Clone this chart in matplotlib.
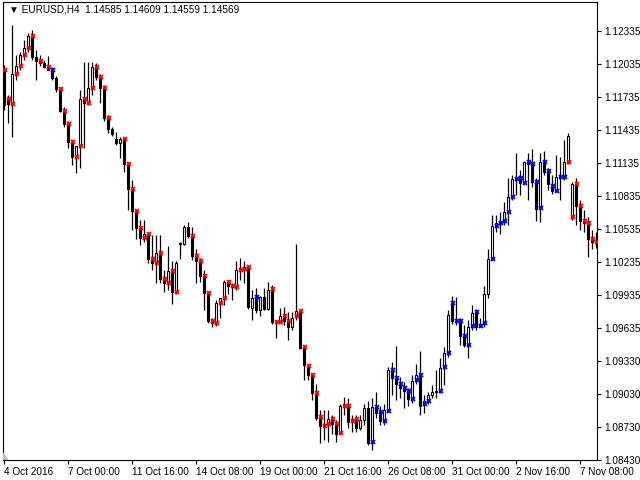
import matplotlib.pyplot as plt
from matplotlib.patches import Polygon
import numpy as np

plt.rcParams['font.family'] = ['Liberation Sans', 'DejaVu Sans']

# EURUSD H4 candles, bar 0 = 4 Oct 2016 08:00
opens = [1.1198, 1.1172, 1.1167, 1.1194, 1.1202, 1.1212, 1.1218, 1.1229, 1.1210, 1.1206,
         1.1204, 1.1201, 1.1198, 1.1191, 1.1181, 1.1161, 1.1149, 1.1133, 1.1119, 1.1129,
         1.1172, 1.1168, 1.1182, 1.1201, 1.1192, 1.1182, 1.1154, 1.1144, 1.1135, 1.1132,
         1.1135, 1.1113, 1.1090, 1.1070, 1.1054, 1.1045, 1.1049, 1.1026, 1.1023, 1.1032,
         1.1008, 1.1004, 1.1015, 1.0996, 1.1041, 1.1040, 1.1055, 1.1047, 1.1029, 1.1024,
         1.1011, 1.0995, 1.0970, 1.0968, 1.0986, 1.0991, 1.1005, 1.1002, 1.1001, 1.1016,
         1.1017, 1.1019, 1.0982, 1.0992, 1.0980, 1.0992, 1.0981, 1.0999, 1.0969, 1.0969,
         1.0974, 1.0970, 1.0964, 1.0974, 1.0979, 1.0946, 1.0929, 1.0921, 1.0904, 1.0883,
         1.0874, 1.0876, 1.0881, 1.0876, 1.0868, 1.0893, 1.0893, 1.0879, 1.0881, 1.0873,
         1.0880, 1.0891, 1.0860, 1.0892, 1.0887, 1.0879, 1.0888, 1.0925, 1.0918, 1.0913,
         1.0909, 1.0906, 1.0899, 1.0916, 1.0921, 1.0894, 1.0897, 1.0903, 1.0905, 1.0906,
         1.0928, 1.0941, 1.0986, 1.0970, 1.0970, 1.0956, 1.0948, 1.0965, 1.0978, 1.0965,
         1.0968, 1.0994, 1.1026, 1.1056, 1.1059, 1.1061, 1.1069, 1.1083, 1.1099, 1.1100,
         1.1095, 1.1114, 1.1113, 1.1096, 1.1073, 1.1114, 1.1106, 1.1093, 1.1088, 1.1101,
         1.1101, 1.1114, 1.1064, 1.1094, 1.1074, 1.1061, 1.1059, 1.1044, 1.1042]
highs = [1.1203, 1.1175, 1.1239, 1.1212, 1.1214, 1.1225, 1.1232, 1.1234, 1.1216, 1.1212,
         1.1207, 1.1211, 1.1201, 1.1193, 1.1183, 1.1164, 1.1152, 1.1134, 1.1128, 1.1180,
         1.1205, 1.1205, 1.1205, 1.1204, 1.1194, 1.1184, 1.1157, 1.1146, 1.1142, 1.1137,
         1.1136, 1.1114, 1.1098, 1.1071, 1.1062, 1.1062, 1.1050, 1.1048, 1.1048, 1.1048,
         1.1016, 1.1038, 1.1024, 1.1024, 1.1042, 1.1057, 1.1060, 1.1055, 1.1035, 1.1027,
         1.1016, 1.0996, 1.0973, 1.0989, 1.0989, 1.1007, 1.1007, 1.1004, 1.1024, 1.1027,
         1.1024, 1.1021, 1.0998, 1.1000, 1.0993, 1.1000, 1.1005, 1.1003, 1.0971, 1.0982,
         1.0983, 1.0978, 1.0978, 1.1040, 1.0980, 1.0948, 1.0930, 1.0923, 1.0913, 1.0889,
         1.0889, 1.0889, 1.0884, 1.0880, 1.0894, 1.0901, 1.0900, 1.0884, 1.0884, 1.0884,
         1.0894, 1.0897, 1.0900, 1.0905, 1.0893, 1.0894, 1.0928, 1.0933, 1.0947, 1.0919,
         1.0914, 1.0909, 1.0921, 1.0931, 1.0943, 1.0903, 1.0905, 1.0912, 1.0925, 1.0936,
         1.0946, 1.0980, 1.0993, 1.0992, 1.0973, 1.0966, 1.0971, 1.0984, 1.0981, 1.0973,
         1.1002, 1.1035, 1.1066, 1.1066, 1.1069, 1.1078, 1.1100, 1.1103, 1.1123, 1.1107,
         1.1115, 1.1123, 1.1126, 1.1100, 1.1123, 1.1124, 1.1109, 1.1103, 1.1121, 1.1119,
         1.1134, 1.1141, 1.1096, 1.1100, 1.1080, 1.1071, 1.1064, 1.1053, 1.1051]
lows = [1.1162, 1.1150, 1.1137, 1.1189, 1.1198, 1.1207, 1.1214, 1.1207, 1.1189, 1.1202,
        1.1200, 1.1198, 1.1189, 1.1178, 1.1160, 1.1146, 1.1127, 1.1112, 1.1104, 1.1109,
        1.1127, 1.1166, 1.1175, 1.1189, 1.1168, 1.1152, 1.1141, 1.1138, 1.1130, 1.1118,
        1.1105, 1.1071, 1.1053, 1.1044, 1.1039, 1.1042, 1.1023, 1.1016, 1.1004, 1.1004,
        1.0996, 1.0998, 1.0985, 1.0994, 1.1026, 1.1039, 1.1045, 1.1025, 1.1004, 1.1005,
        1.0980, 1.0968, 1.0964, 1.0965, 1.0973, 1.0984, 1.0994, 1.0989, 1.0998, 1.1007,
        1.1004, 1.0981, 1.0971, 1.0977, 1.0974, 1.0980, 1.0980, 1.0967, 1.0954, 1.0968,
        1.0966, 1.0953, 1.0962, 1.0971, 1.0944, 1.0916, 1.0916, 1.0898, 1.0880, 1.0859,
        1.0862, 1.0860, 1.0867, 1.0860, 1.0867, 1.0884, 1.0873, 1.0869, 1.0869, 1.0871,
        1.0875, 1.0857, 1.0853, 1.0882, 1.0875, 1.0875, 1.0887, 1.0903, 1.0898, 1.0900,
        1.0891, 1.0893, 1.0895, 1.0913, 1.0884, 1.0886, 1.0894, 1.0900, 1.0900, 1.0904,
        1.0912, 1.0937, 1.0967, 1.0966, 1.0948, 1.0946, 1.0936, 1.0962, 1.0962, 1.0964,
        1.0964, 1.0991, 1.1025, 1.1051, 1.1049, 1.1057, 1.1057, 1.1080, 1.1084, 1.1084,
        1.1094, 1.1080, 1.1092, 1.1061, 1.1060, 1.1103, 1.1089, 1.1085, 1.1087, 1.1080,
        1.1098, 1.1113, 1.1062, 1.1057, 1.1053, 1.1051, 1.1028, 1.1035, 1.1036]
closes = [1.1166, 1.1167, 1.1194, 1.1202, 1.1212, 1.1218, 1.1229, 1.1210, 1.1206, 1.1204,
          1.1201, 1.1198, 1.1191, 1.1181, 1.1161, 1.1149, 1.1133, 1.1119, 1.1129, 1.1172,
          1.1168, 1.1182, 1.1201, 1.1192, 1.1182, 1.1154, 1.1144, 1.1140, 1.1132, 1.1135,
          1.1113, 1.1090, 1.1070, 1.1054, 1.1045, 1.1049, 1.1026, 1.1023, 1.1032, 1.1008,
          1.1004, 1.1015, 1.0996, 1.1023, 1.1040, 1.1055, 1.1047, 1.1029, 1.1024, 1.1011,
          1.0995, 1.0970, 1.0968, 1.0986, 1.0991, 1.1005, 1.1002, 1.1001, 1.1016, 1.1017,
          1.1019, 1.0983, 1.0991, 1.0980, 1.0992, 1.0981, 1.0998, 1.0969, 1.0969, 1.0974,
          1.0970, 1.0964, 1.0973, 1.0979, 1.0945, 1.0930, 1.0921, 1.0904, 1.0882, 1.0874,
          1.0876, 1.0881, 1.0876, 1.0867, 1.0893, 1.0893, 1.0878, 1.0881, 1.0873, 1.0880,
          1.0891, 1.0859, 1.0892, 1.0886, 1.0879, 1.0889, 1.0925, 1.0918, 1.0913, 1.0909,
          1.0906, 1.0899, 1.0915, 1.0921, 1.0893, 1.0897, 1.0903, 1.0905, 1.0906, 1.0927,
          1.0941, 1.0975, 1.0970, 1.0970, 1.0956, 1.0948, 1.0964, 1.0977, 1.0964, 1.0967,
          1.0994, 1.1026, 1.1056, 1.1059, 1.1061, 1.1069, 1.1083, 1.1099, 1.1100, 1.1095,
          1.1114, 1.1113, 1.1096, 1.1072, 1.1114, 1.1105, 1.1094, 1.1088, 1.1101, 1.1102,
          1.1114, 1.1138, 1.1094, 1.1074, 1.1061, 1.1059, 1.1044, 1.1042, 1.1041]

# indicator marks at each bar's open: r = red, b = blue, - = none
signals = ("rrrrrrrr" + "-r-rb-" + "r" * 13 + "---" + "r" * 14 + "---" + "r" * 15
           + "-b---" + "r" * 5 + "-" + "r" * 16 + "---" + "b" * 15 + "--" + "b" * 12
           + "-" + "b" * 19 + "r" * 8)

date_pos = [0, 16, 32, 48, 64, 80, 96, 112, 128, 144]
date_labels = ["4 Oct 2016", "7 Oct 00:00", "11 Oct 16:00", "14 Oct 08:00", "19 Oct 00:00",
               "21 Oct 16:00", "26 Oct 08:00", "31 Oct 00:00", "2 Nov 16:00", "7 Nov 08:00"]
price_labels = ["1.12335", "1.12035", "1.11735", "1.11435", "1.11135", "1.10835", "1.10535",
                "1.10235", "1.09935", "1.09635", "1.09330", "1.09030", "1.08730", "1.08430"]

o, h, l, c = map(np.array, (opens, highs, lows, closes))
x = np.arange(len(o))

fig = plt.figure(figsize=(6.4, 4.8), dpi=100)
ax = fig.add_axes([3 / 640, 20 / 480, 594 / 640, 458 / 480])

ax.vlines(x, l, h, color='black', lw=0.9, zorder=1)
up = c >= o
ax.bar(x[up], np.maximum((c - o)[up], 0.00002), bottom=o[up], width=0.6,
       color='white', edgecolor='black', lw=0.8, zorder=2)
ax.bar(x[~up], (o - c)[~up], bottom=c[~up], width=0.6,
       color='black', edgecolor='black', lw=0.8, zorder=2)

for i, s in enumerate(signals):
    if s == '-':
        continue
    col = '#ff0000' if s == 'r' else '#0000ff'
    ax.plot(x[i] + 0.2, o[i], 'x', color=col, ms=3.5, mew=1.3, zorder=3)

ax.set_xlim(-0.25, 148.25)
ax.set_ylim(1.08435, 1.12599)

ax.yaxis.tick_right()
ax.set_yticks([1.12335 - 0.003 * k for k in range(len(price_labels))])
ax.set_yticklabels(price_labels)
ax.set_xticks(date_pos)
ax.set_xticklabels(date_labels)
for lbl in ax.get_xticklabels():
    lbl.set_ha('left')
ax.tick_params(axis='both', labelsize=7.2, length=3, width=0.8, color='black', pad=2)
for sp in ax.spines.values():
    sp.set_linewidth(0.8)

ax.text(6 / 594, 1 - 8 / 458, "\u25bc EURUSD,H4  1.14585 1.14609 1.14559 1.14569",
        transform=ax.transAxes, fontsize=7.2, va='center', ha='left',
        family=['Liberation Sans', 'DejaVu Sans'])
ax.add_patch(Polygon([(0, 0), (0, 7 / 458), (5 / 594, 0)], closed=True,
                     transform=ax.transAxes, color='#c0c0c0', zorder=4))

plt.savefig('out.png', dpi=100)
